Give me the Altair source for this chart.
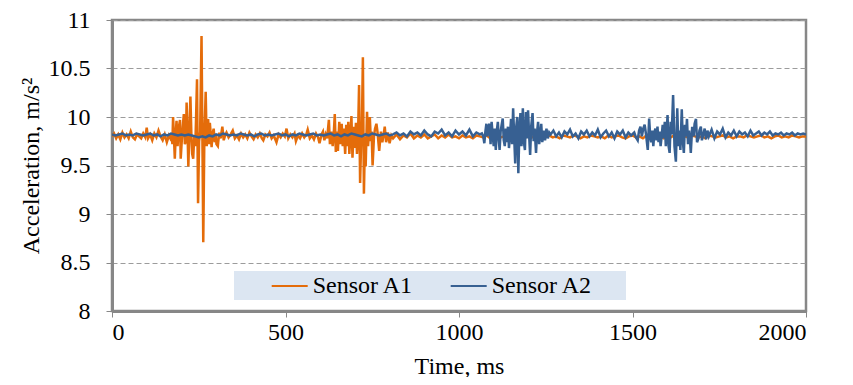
import altair as alt
import pandas as pd

# ---------------- data ----------------
SERIES = ["Sensor A1", "Sensor A2"]
COLORS = ["#E46C0A", "#376092"]

# Sensor A1 : quiet start (start ms, step ms, values)
a1_pre = (0, 6, [9.80, 9.83, 9.78, 9.82, 9.77, 9.84, 9.79, 9.82, 9.78, 9.85, 9.79, 9.77,
                 9.82, 9.80, 9.78, 9.83, 9.79])
a1_pre_pts = [(100, 9.89), (104, 9.78), (110, 9.82), (116, 9.76), (122, 9.83), (128, 9.79),
              (134, 9.86), (140, 9.80), (146, 9.76), (152, 9.82), (158, 9.74), (164, 9.81),
              (168, 9.78)]
a1_burst1 = [(172, 9.83), (174, 9.72), (176, 10.00), (179, 9.75), (181, 9.57), (184, 9.85),
             (186, 9.96), (189, 9.70), (192, 9.88), (196, 9.97), (198, 9.57), (201, 9.75),
             (204, 9.90), (207, 10.03), (210, 9.72), (213, 9.75), (215, 10.15), (218, 9.80),
             (220, 9.49), (223, 9.85), (226, 10.21), (229, 9.78), (231, 9.62), (234, 9.57),
             (237, 9.80), (240, 9.70), (242, 9.95), (245, 10.39), (248, 9.11), (251, 9.75),
             (254, 9.85), (258, 10.835), (261, 9.60), (263, 8.71), (266, 9.75), (270, 10.26),
             (273, 9.70), (275, 9.85), (277, 9.98), (280, 9.72), (282, 9.94), (285, 9.80),
             (287, 9.69), (290, 9.83), (293, 9.88), (296, 9.74), (299, 9.82), (301, 9.72),
             (305, 9.70), (309, 9.84), (313, 9.78), (318, 9.90), (322, 9.76), (326, 9.81),
             (330, 9.84)]
a1_mid = [(336, 9.79), (342, 9.82), (348, 9.86), (354, 9.78), (360, 9.81), (366, 9.77),
          (372, 9.83), (378, 9.79), (384, 9.82), (390, 9.78), (396, 9.84), (402, 9.80),
          (408, 9.77), (414, 9.82), (420, 9.79), (426, 9.83), (432, 9.78), (436, 9.76),
          (442, 9.82), (448, 9.80), (454, 9.84), (460, 9.78), (466, 9.81), (474, 9.74),
          (480, 9.82), (486, 9.79), (492, 9.83), (498, 9.80), (503, 9.88), (508, 9.78),
          (514, 9.82), (520, 9.79), (526, 9.83), (530, 9.75), (536, 9.81), (542, 9.78),
          (548, 9.83), (554, 9.79), (560, 9.82), (564, 9.87), (570, 9.78), (576, 9.81),
          (582, 9.77), (588, 9.83), (594, 9.79), (598, 9.73), (604, 9.82)]
a1_burst2 = [(608, 9.85), (612, 9.76), (616, 9.82), (620, 9.78), (625, 9.97), (628, 9.72),
             (632, 9.85), (636, 9.70), (639, 9.82), (642, 10.03), (645, 9.64), (648, 9.85),
             (651, 9.65), (655, 9.95), (658, 9.72), (662, 9.93), (665, 9.70), (668, 9.88),
             (672, 9.62), (675, 9.92), (678, 9.70), (681, 9.95), (684, 9.62), (687, 9.80),
             (690, 10.01), (693, 9.58), (697, 9.90), (700, 9.68), (703, 9.94), (706, 9.62),
             (709, 9.80), (712, 10.33), (715, 9.32), (718, 9.75), (720, 9.85), (723, 10.615),
             (726, 9.21), (729, 9.80), (731, 9.49), (735, 10.055), (738, 9.70), (741, 9.88),
             (743, 10.00), (746, 9.75), (748, 9.85), (751, 9.50), (755, 9.80), (758, 9.88),
             (762, 9.93), (765, 9.85), (770, 9.65), (775, 9.85), (779, 9.74), (783, 9.82),
             (786, 9.90), (790, 9.74), (795, 9.84), (800, 9.73), (805, 9.81)]
a1_tail = (810, 10, [
    9.78, 9.82, 9.77, 9.81, 9.79, 9.83, 9.78, 9.81, 9.79, 9.82, 9.78, 9.80, 9.82, 9.78, 9.81, 9.79, 9.82, 9.79, 9.80, 9.78,
    9.81, 9.79, 9.80, 9.78, 9.81, 9.80, 9.79, 9.81, 9.78, 9.80, 9.81, 9.79, 9.80, 9.78, 9.81, 9.79, 9.80, 9.81, 9.79, 9.80,
    9.79, 9.81, 9.80, 9.78, 9.80, 9.81, 9.79, 9.80, 9.78, 9.81, 9.80, 9.79, 9.81, 9.80, 9.78, 9.80, 9.79, 9.81, 9.80, 9.79,
    9.80, 9.78, 9.81, 9.79, 9.80, 9.81, 9.79, 9.78, 9.80, 9.81, 9.79, 9.80, 9.78, 9.81, 9.80, 9.79, 9.81, 9.80, 9.78, 9.80,
    9.79, 9.81, 9.80, 9.78, 9.80, 9.79, 9.81, 9.80, 9.79, 9.80, 9.78, 9.81, 9.80, 9.79, 9.80, 9.81, 9.79, 9.80, 9.78, 9.80,
    9.80, 9.79, 9.81, 9.80, 9.79, 9.80, 9.81, 9.79, 9.80, 9.78, 9.80, 9.81, 9.79, 9.80, 9.79, 9.81, 9.80, 9.79, 9.80, 9.80])

# Sensor A2
a2_pre = (0, 10, [
    9.82, 9.81, 9.82, 9.83, 9.81, 9.82, 9.81, 9.83, 9.82, 9.81, 9.82, 9.83, 9.81, 9.82, 9.80, 9.82, 9.81, 9.83, 9.82, 9.81,
    9.82, 9.81, 9.82, 9.81, 9.80,
    9.79, 9.80, 9.79, 9.81, 9.80, 9.82, 9.81, 9.83, 9.82, 9.81, 9.82,
    9.81, 9.83, 9.82, 9.81, 9.82, 9.80, 9.82, 9.83, 9.81, 9.82, 9.81, 9.82, 9.83, 9.81, 9.82, 9.80, 9.82, 9.81, 9.83, 9.82,
    9.81, 9.82, 9.83, 9.81, 9.82,
    9.81, 9.82, 9.83, 9.81, 9.82, 9.80, 9.82, 9.81, 9.83, 9.82, 9.81, 9.80, 9.82, 9.81, 9.83, 9.82, 9.81, 9.82, 9.83, 9.81,
    9.82, 9.84, 9.81, 9.83, 9.80, 9.85, 9.82, 9.84, 9.81, 9.86, 9.82, 9.80, 9.85, 9.83, 9.87, 9.81, 9.84, 9.80, 9.86, 9.82,
    9.85, 9.81, 9.87, 9.80, 9.84, 9.82])
a2_burst1 = [(1066, 9.83), (1070, 9.80), (1073, 9.73), (1076, 9.85), (1079, 9.93), (1082, 9.80),
             (1085, 9.90), (1088, 9.93), (1091, 9.72), (1094, 9.95), (1097, 9.82), (1100, 9.70),
             (1103, 9.88), (1106, 9.66), (1109, 9.86), (1112, 9.95), (1115, 9.75), (1117, 9.66),
             (1120, 9.85), (1123, 9.92), (1126, 9.985), (1129, 9.76), (1132, 9.70), (1135, 9.88),
             (1138, 9.74), (1141, 9.90), (1144, 9.68), (1147, 9.82), (1150, 9.98), (1153, 9.72),
             (1156, 10.09), (1159, 9.80), (1162, 9.52), (1165, 9.90), (1168, 10.00), (1171, 9.42),
             (1174, 9.86), (1177, 10.04), (1180, 9.70), (1184, 10.09), (1187, 9.74), (1190, 9.66),
             (1193, 10.05), (1196, 9.78), (1199, 10.07), (1202, 9.82), (1205, 9.61), (1208, 9.90),
             (1212, 10.04), (1215, 9.75), (1218, 9.88), (1222, 9.63), (1225, 9.85), (1228, 9.95),
             (1231, 9.72), (1234, 9.80), (1237, 9.93), (1240, 9.74), (1244, 9.86), (1248, 9.76),
             (1252, 9.88), (1256, 9.78), (1260, 9.84)]
a2_mid = (1264, 8, [9.82, 9.86, 9.80, 9.84, 9.79, 9.85, 9.82, 9.87, 9.80, 9.83, 9.78, 9.85, 9.82,
                    9.86, 9.80, 9.84, 9.81, 9.87, 9.79, 9.83, 9.86, 9.80, 9.84, 9.78, 9.85, 9.82,
                    9.86, 9.79, 9.84, 9.81])
a2_burst2 = [(1505, 9.84), (1510, 9.79), (1515, 9.76), (1519, 9.86), (1523, 9.90), (1527, 9.80),
             (1531, 9.88), (1535, 9.92), (1539, 9.82), (1544, 9.66), (1548, 9.985), (1551, 9.80),
             (1554, 9.74), (1557, 9.86), (1560, 9.70), (1563, 9.84), (1566, 9.88), (1569, 9.76),
             (1572, 9.90), (1575, 9.74), (1578, 9.85), (1581, 9.70), (1584, 9.80), (1587, 9.92),
             (1590, 9.78), (1593, 9.95), (1596, 9.70), (1599, 9.88), (1601, 10.02), (1604, 9.70),
             (1607, 9.63), (1610, 9.95), (1613, 9.82), (1617, 10.227), (1621, 9.70), (1625, 9.54),
             (1629, 10.09), (1632, 9.70), (1635, 9.86), (1638, 9.66), (1642, 10.08), (1645, 9.75),
             (1648, 9.63), (1651, 9.92), (1654, 9.80), (1657, 9.98), (1660, 9.72), (1663, 9.86),
             (1666, 9.75), (1668, 9.63), (1672, 9.90), (1676, 9.80), (1679, 9.93), (1683, 9.98),
             (1686, 9.74), (1690, 9.78), (1693, 9.86), (1697, 9.90), (1700, 9.76), (1704, 9.82),
             (1708, 9.88), (1712, 9.77), (1716, 9.86)]
a2_tail = (1720, 8, [9.80, 9.87, 9.78, 9.85, 9.82, 9.88, 9.79, 9.84, 9.81, 9.86, 9.80, 9.85, 9.82,
                     9.84, 9.80, 9.86, 9.81, 9.83, 9.85, 9.81, 9.84, 9.82, 9.85, 9.81, 9.83, 9.82,
                     9.84, 9.81, 9.83, 9.82, 9.84, 9.81, 9.83, 9.82, 9.83, 9.82])

Y_TICKS = [8, 8.5, 9, 9.5, 10, 10.5, 11]
X_TICKS = [0, 500, 1000, 1500, 2000]


def expand(seg):
    start, step, vals = seg
    return [(start + i * step, v) for i, v in enumerate(vals)]


rows = []
for name, parts in [
    (SERIES[0], [expand(a1_pre), a1_pre_pts, a1_burst1, a1_mid, a1_burst2, expand(a1_tail)]),
    (SERIES[1], [expand(a2_pre), a2_burst1, expand(a2_mid), a2_burst2, expand(a2_tail)]),
]:
    for part in parts:
        for t, v in part:
            rows.append({"time": t, "acc": v, "sensor": name})
df = pd.DataFrame(rows)

FONT = "'Times New Roman', 'Liberation Serif', Tinos, 'DejaVu Serif', serif"
GRAY = "#878787"

lines = alt.Chart(df).mark_line(strokeWidth=2.5, clip=True).encode(
    x=alt.X("time:Q", scale=alt.Scale(domain=[0, 2000], nice=False),
            axis=alt.Axis(values=X_TICKS, format="d", title="Time, ms", grid=False,
                          titleY=62, titleBaseline="alphabetic", labelPadding=3)),
    y=alt.Y("acc:Q", scale=alt.Scale(domain=[8, 11], nice=False, zero=False),
            axis=alt.Axis(values=Y_TICKS, format="~g", title="Acceleration, m/s²",
                          titleAngle=270, titleX=-81, titleY=145.5, titleAlign="center",
                          titleBaseline="middle", labelPadding=16,
                          grid=True, gridDash=[5, 3], gridColor="#9c9c9c", gridWidth=1)),
    color=alt.Color("sensor:N", scale=alt.Scale(domain=SERIES, range=COLORS),
                    legend=alt.Legend(title=None, orient="none", legendX=158.7, legendY=247,
                                      direction="horizontal", symbolType="stroke",
                                      symbolSize=1296, symbolStrokeWidth=2,
                                      labelFont=FONT, labelFontSize=24, labelColor="#000000",
                                      labelOffset=4, columnPadding=33, padding=0)),
)

legend_bg = alt.Chart(pd.DataFrame({"k": [0]})).mark_rect(fill="#dce6f2").encode(
    x=alt.value(122), x2=alt.value(514), y=alt.value(251), y2=alt.value(280)
)

chart = alt.layer(legend_bg, lines).properties(
    width=694, height=291,
    autosize=alt.AutoSizeParams(type="none"),
    padding={"left": 104, "top": 12, "right": 39, "bottom": 66},
).configure_view(
    stroke=GRAY, strokeWidth=2.5
).configure_axis(
    labelFont=FONT, titleFont=FONT, labelFontSize=24, titleFontSize=24,
    labelColor="#000000", titleColor="#000000", titleFontWeight="normal",
    domainColor=GRAY, domainWidth=3, tickColor=GRAY, tickSize=6, tickWidth=1,
)

chart.save("out.html", embed_options={"renderer": "svg", "actions": False})
